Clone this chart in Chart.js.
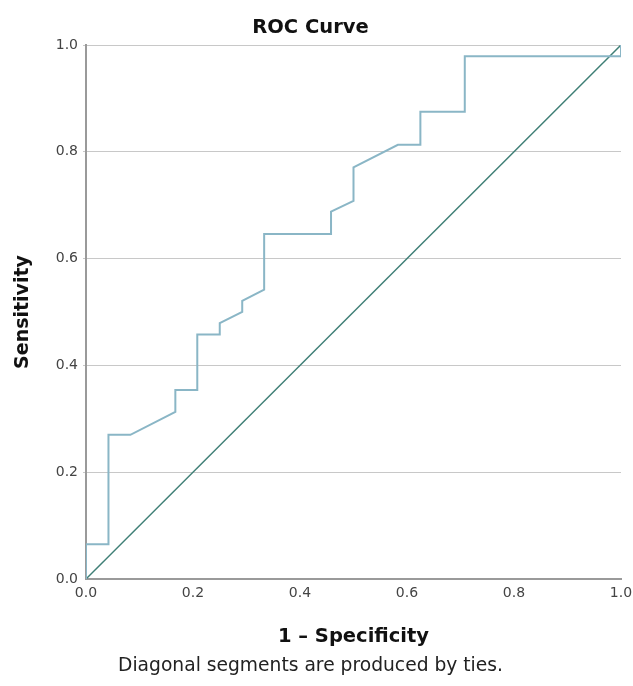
<!DOCTYPE html>
<html>
<head>
<meta charset="utf-8">
<script src="https://cdn.jsdelivr.net/npm/chart.js@4/dist/chart.umd.min.js"></script>
<style>
  html, body { margin: 0; padding: 0; background: #fff; }
  #wrap { width: 633px; height: 686px; }
</style>
</head>
<body>
<div id="wrap"><canvas id="roc"></canvas></div>
<script>
// ROC curve steps (1 - specificity, sensitivity)
const fprValues = [0, 0, 0.042, 0.042, 0.083, 0.167, 0.167, 0.208, 0.208, 0.25, 0.25, 0.292, 0.292, 0.333, 0.333, 0.458, 0.458, 0.5, 0.5, 0.583, 0.625, 0.625, 0.708, 0.708, 1.0, 1.0];
const tprValues = [0, 0.065, 0.065, 0.27, 0.27, 0.313, 0.354, 0.354, 0.458, 0.458, 0.479, 0.5, 0.521, 0.542, 0.646, 0.646, 0.688, 0.708, 0.771, 0.813, 0.813, 0.875, 0.875, 0.979, 0.979, 1.0];
// reference line
const refX = [0, 1];
const refY = [0, 1];
const axisTicks = [0, 0.2, 0.4, 0.6, 0.8, 1.0];

const fontFam = '"DejaVu Sans", sans-serif';

const ctx = document.getElementById('roc').getContext('2d');
new Chart(ctx, {
    type: 'scatter',
    data: {
        datasets: [
            {
                label: 'Source of the Curve',
                data: fprValues.map((x, i) => ({ x: x, y: tprValues[i] })),
                showLine: true, borderColor: '#8ab6c6', borderWidth: 2, pointRadius: 0, tension: 0, fill: false
            },
            {
                label: 'Reference Line',
                data: refX.map((x, i) => ({ x: x, y: refY[i] })),
                showLine: true, borderColor: '#3f7f76', borderWidth: 1.5, pointRadius: 0, tension: 0, fill: false
            }
        ]
    },
    options: {
        responsive: true, maintainAspectRatio: false, animation: false,
        layout: { padding: { left: 0, right: 12, top: 0, bottom: 0 } },
        plugins: {
            legend: { display: false },
            tooltip: { enabled: false },
            title: { display: true, text: 'ROC Curve', color: '#111', font: { family: fontFam, size: 19.5, weight: 'bold' }, padding: { top: 16.5, bottom: 5.1 } },
            subtitle: { display: true, position: 'bottom', text: 'Diagonal segments are produced by ties.', color: '#222', font: { family: fontFam, size: 18.7 }, padding: { top: 0.6, bottom: 9 } }
        },
        scales: {
            x: {
                type: 'linear', min: 0, max: 1,
                afterBuildTicks: s => { s.ticks = axisTicks.map(v => ({ value: v })); },
                afterFit: s => { s.height = 75; s.paddingRight = 0; },
                grid: { display: false, drawTicks: false },
                border: { display: true, color: '#9a9a9a', width: 2 },
                ticks: { color: '#444', font: { family: fontFam, size: 14 }, padding: 6, callback: v => v.toFixed(1) },
                title: { display: true, text: '1 \u2013 Specificity', color: '#111', font: { family: fontFam, size: 19.5, weight: 'bold' }, padding: { top: 2, bottom: 5.5 } }
            },
            y: {
                type: 'linear', min: 0, max: 1,
                afterBuildTicks: s => { s.ticks = axisTicks.map(v => ({ value: v })); },
                afterFit: s => { s.width = 86; },
                grid: { color: c => c.tick.value === 0 ? 'rgba(0,0,0,0)' : '#c8c8c8', lineWidth: 1, drawTicks: true, tickLength: 3 },
                border: { display: true, color: '#9a9a9a', width: 2 },
                ticks: { color: '#444', font: { family: fontFam, size: 14 }, padding: 5, callback: v => v.toFixed(1) },
                title: { display: true, text: 'Sensitivity', color: '#111', font: { family: fontFam, size: 19, weight: 'bold' }, padding: { top: 12, bottom: 0 } }
            }
        }
    }
});
</script>
</body>
</html>
